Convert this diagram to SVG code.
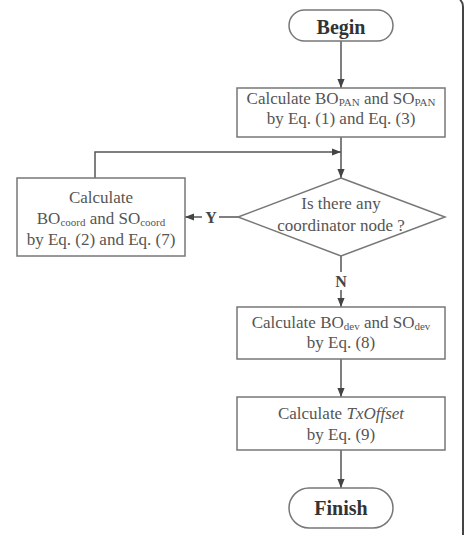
<svg xmlns="http://www.w3.org/2000/svg" width="467" height="535" viewBox="0 0 467 535">
<defs>
<marker id="ah" viewBox="0 0 10 10" refX="10" refY="5" markerWidth="9" markerHeight="9" markerUnits="userSpaceOnUse" orient="auto">
<path d="M0,1 L10,5 L0,9 z" fill="#444"/>
</marker>
<style>
.box{fill:#fff;stroke:#777;stroke-width:1.5}
.t{font-family:"Liberation Serif","Times New Roman",serif;font-size:17px;fill:#555;text-anchor:middle}
.b{font-family:"Liberation Serif","Times New Roman",serif;font-size:20px;font-weight:bold;fill:#333;text-anchor:middle}
.s{font-size:11px}
.c{fill:none;stroke:#555;stroke-width:1.5}
.lbl{font-family:"Liberation Serif","Times New Roman",serif;font-size:16px;font-weight:bold;fill:#444;text-anchor:middle}
</style>
</defs>
<rect width="467" height="535" fill="#fff"/>
<path d="M460,0 Q463,2 463,7 L463,535" fill="none" stroke="#444" stroke-width="2"/>

<g id="connectors">
<line class="c" x1="341" y1="41" x2="341" y2="88" marker-end="url(#ah)"/>
<line class="c" x1="341" y1="137" x2="341" y2="178" marker-end="url(#ah)"/>
<polyline class="c" points="95,178 95,152 341,152" marker-end="url(#ah)"/>
<line class="c" x1="238" y1="217" x2="219" y2="217"/>
<line class="c" x1="202" y1="217" x2="185" y2="217" marker-end="url(#ah)"/>
<line class="c" x1="341" y1="256" x2="341" y2="272"/>
<line class="c" x1="341" y1="290" x2="341" y2="307" marker-end="url(#ah)"/>
<line class="c" x1="341" y1="359" x2="341" y2="397" marker-end="url(#ah)"/>
<line class="c" x1="341" y1="450" x2="341" y2="488" marker-end="url(#ah)"/>
<text class="lbl" x="211" y="223">Y</text>
<text class="lbl" x="341" y="287">N</text>
</g>

<g id="begin">
<rect class="box" x="289" y="10" width="104" height="31" rx="15.5"/>
<text class="b" x="341" y="34">Begin</text>
</g>

<g id="calcPAN">
<rect class="box" x="237" y="88" width="208" height="49"/>
<text class="t" x="341" y="104">Calculate BO<tspan class="s" dy="2">PAN</tspan><tspan dy="-2"> and SO</tspan><tspan class="s" dy="2">PAN</tspan></text>
<text class="t" x="341" y="124">by Eq. (1) and Eq. (3)</text>
</g>

<g id="decision">
<polygon class="box" points="341,178 445,217 341,256 238,217"/>
<text class="t" x="341" y="209">Is there any</text>
<text class="t" x="341" y="231">coordinator node ?</text>
</g>

<g id="calcCoord">
<rect class="box" x="17" y="178" width="168" height="78"/>
<text class="t" x="101" y="203">Calculate</text>
<text class="t" x="101" y="224">BO<tspan class="s" dy="2">coord</tspan><tspan dy="-2"> and SO</tspan><tspan class="s" dy="2">coord</tspan></text>
<text class="t" x="101" y="245">by Eq. (2) and Eq. (7)</text>
</g>

<g id="calcDev">
<rect class="box" x="237" y="307" width="208" height="52"/>
<text class="t" x="341" y="328">Calculate BO<tspan class="s" dy="2">dev</tspan><tspan dy="-2"> and SO</tspan><tspan class="s" dy="2">dev</tspan></text>
<text class="t" x="341" y="348">by Eq. (8)</text>
</g>

<g id="calcTx">
<rect class="box" x="237" y="397" width="208" height="53"/>
<text class="t" x="341" y="419">Calculate <tspan font-style="italic">TxOffset</tspan></text>
<text class="t" x="341" y="440">by Eq. (9)</text>
</g>

<g id="finish">
<rect class="box" x="289" y="488" width="104" height="40" rx="20"/>
<text class="b" x="341" y="515">Finish</text>
</g>
</svg>
